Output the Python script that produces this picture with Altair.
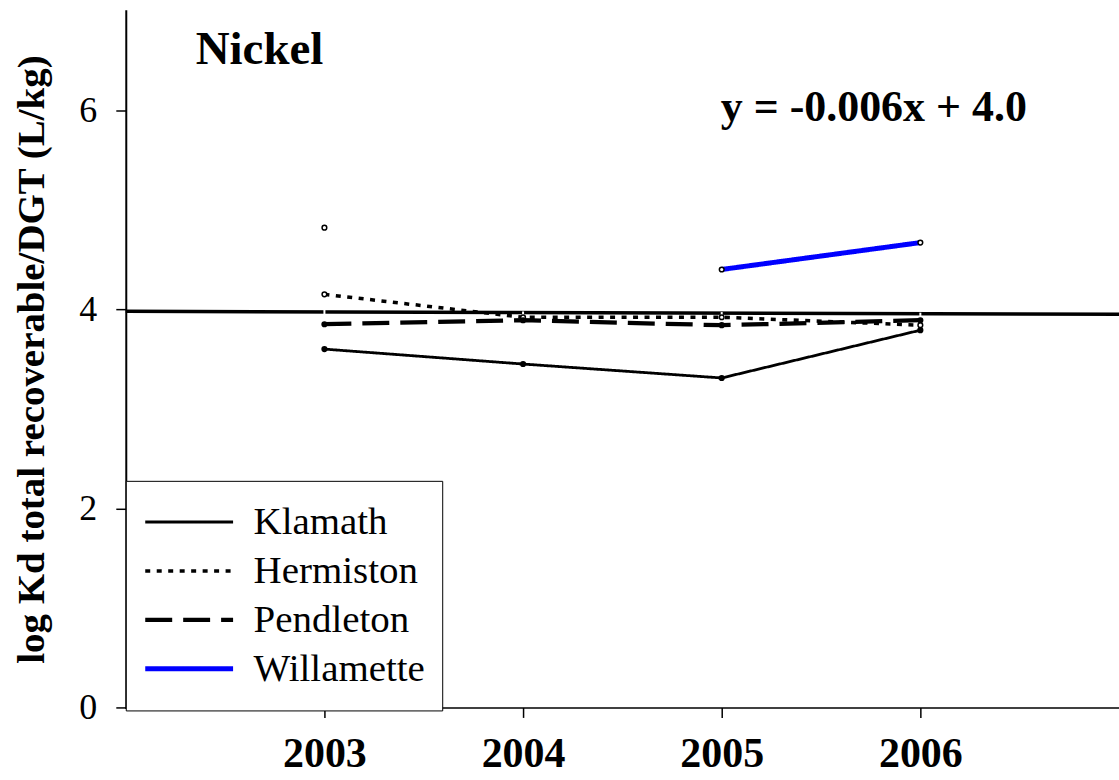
import altair as alt
import pandas as pd

# Annual log Kd values for nickel at each site
years = [2003, 2004, 2005, 2006]
sites = ["Klamath", "Hermiston", "Pendleton", "Willamette"]
klamath = [3.60, 3.45, 3.31, 3.79]
hermiston = [4.15, 3.92, 3.92, 3.84]
pendleton = [3.85, 3.89, 3.84, 3.89]
willamette = [4.82, None, 4.40, 4.67]

# Fitted trend line end points
reg_x = [2002, 2007]
reg_y = [3.98, 3.95]

colors = ["black", "black", "black", "#0000ff"]
dashes = [[1, 0], [5, 6.5], [27, 11], [1, 0]]
widths = [2.8, 5, 3, 3]
fills = ["black", "white", "black", "white"]

FONT = "Liberation Serif"

rows = []
for site, vals in zip(sites, [klamath, hermiston, pendleton, willamette]):
    seg = 0
    for yr, v in zip(years, vals):
        if v is None:
            seg += 1
            continue
        rows.append({"site": site, "year": yr, "kd": v, "seg": f"{site}-{seg}"})
df = pd.DataFrame(rows)

reg_df = pd.DataFrame({"year": reg_x, "kd": reg_y})

# white gaps at each year across the black series and the trend line
black = df[df["site"] != "Willamette"]
span = black.groupby("year")["kd"].agg(["min", "max"]).reset_index()
reg_at = {yr: reg_y[0] + (reg_y[1] - reg_y[0]) * (yr - reg_x[0]) / (reg_x[1] - reg_x[0]) for yr in years}
span["max"] = [max(m, reg_at[y] + 0.01) for y, m in zip(span["year"], span["max"])]

x_enc = alt.X(
    "year:Q",
    scale=alt.Scale(domain=[2002, 2007], nice=False, zero=False),
    axis=alt.Axis(
        values=years, format="d", title=None, grid=False,
        labelFont=FONT, labelFontSize=42, labelFontWeight="bold", labelColor="black",
        tickColor="black", tickSize=10, tickWidth=1.5, labelPadding=16,
        domainColor="black", domainWidth=1.5,
    ),
)
y_enc = alt.Y(
    "kd:Q",
    scale=alt.Scale(domain=[0, 7], nice=False),
    axis=alt.Axis(
        values=[0, 2, 4, 6], format="d", title="log Kd total recoverable/DGT (L/kg)", grid=False,
        labelFont=FONT, labelFontSize=36, labelColor="black", labelPadding=19,
        titleFont=FONT, titleFontSize=39, titleFontWeight="bold", titleColor="black",
        titlePadding=27,
        tickColor="black", tickSize=10, tickWidth=1.5,
        domainColor="black", domainWidth=2,
    ),
)

reg_line = alt.Chart(reg_df).mark_line(color="black", strokeWidth=3.5).encode(
    x=x_enc, y=y_enc
)

legend = alt.Legend(
    title=None, orient="none", legendX=0, legendY=471,
    labelFont=FONT, labelFontSize=39, labelColor="black", labelOffset=18,
    symbolType="stroke", symbolSize=7744, symbolStrokeColor="black",
    clipHeight=48.5, rowPadding=0,
    fillColor="white", strokeColor="black", padding=17,
    labelLimit=400,
)

lines = alt.Chart(df).mark_line().encode(
    x=alt.X("year:Q"),
    y=alt.Y("kd:Q"),
    detail="seg:N",
    color=alt.Color("site:N", scale=alt.Scale(domain=sites, range=colors), legend=legend),
    strokeDash=alt.StrokeDash("site:N", scale=alt.Scale(domain=sites, range=dashes), legend=legend),
    strokeWidth=alt.StrokeWidth("site:N", scale=alt.Scale(domain=sites, range=widths), legend=legend),
)

gaps = alt.Chart(span).mark_rule(color="white", strokeWidth=2).encode(
    x="year:Q", y="min:Q", y2="max:Q"
)

points = alt.Chart(df).mark_point(filled=False, size=22, strokeWidth=1.5, opacity=1).encode(
    x="year:Q",
    y="kd:Q",
    fill=alt.Fill("site:N", scale=alt.Scale(domain=sites, range=fills), legend=None),
    stroke=alt.value("black"),
)

title_txt = alt.Chart(pd.DataFrame({"t": ["Nickel"]})).mark_text(
    font=FONT, fontSize=47, fontWeight="bold", align="left", baseline="alphabetic", color="black"
).encode(text="t:N", x=alt.value(70), y=alt.value(53))

eq_txt = alt.Chart(pd.DataFrame({"t": ["y = -0.006x + 4.0"]})).mark_text(
    font=FONT, fontSize=44, fontWeight="bold", align="left", baseline="alphabetic", color="black"
).encode(text="t:N", x=alt.value(596), y=alt.value(111))

chart = alt.layer(reg_line, lines, gaps, points, title_txt, eq_txt).properties(
    width=995, height=698,
    autosize=alt.AutoSizeParams(type="none"),
    padding={"left": 126, "top": 10, "right": 0, "bottom": 72},
).configure_view(stroke=None).configure_axis(
    domainCap="square"
)

chart.save("out.html", embed_options={"renderer": "svg", "actions": False})
